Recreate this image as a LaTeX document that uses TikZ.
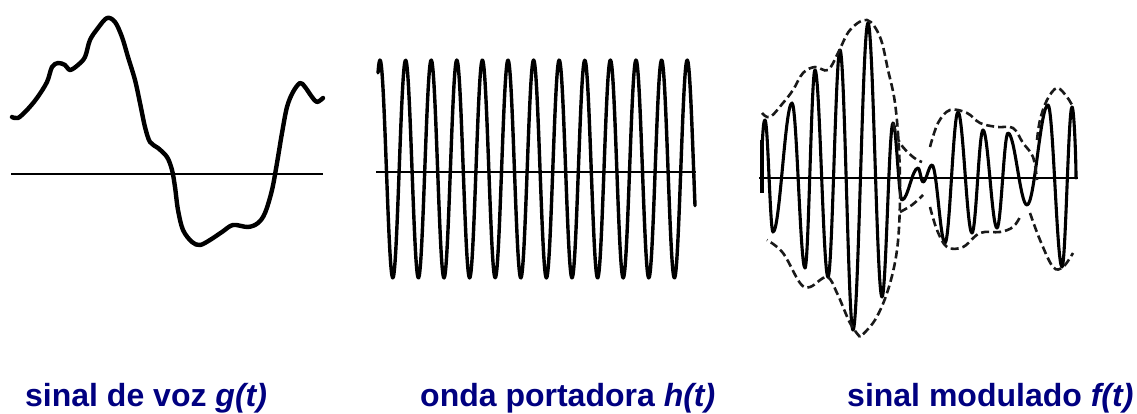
\documentclass[tikz,border=0pt]{standalone}
\usepackage{fontspec}
\setmainfont{Liberation Sans}
\begin{document}
\begin{tikzpicture}[x=1pt,y=-1pt,
  wave/.style={line width=3.1pt, line join=round, line cap=round, black},
  carrier/.style={line width=3.4pt, line join=round, line cap=round, black},
  voice/.style={line width=4.4pt, line join=round, line cap=round, black},
  axisline/.style={line width=2.6pt, black},
  envelope/.style={line width=2.6pt, dash pattern=on 8pt off 4pt, black!90},
  caption/.style={anchor=base west, inner sep=0pt, text=navyblue, font=\fontsize{32}{36}\selectfont\bfseries}]
\definecolor{navyblue}{RGB}{0,0,128}
\useasboundingbox[fill=white] (0,0) rectangle (1137,414);

% ---------- panel 1: voice signal ----------
\draw[axisline] (11,174) -- (323,174);
\draw[voice] plot[smooth, tension=0.55] coordinates {
 (12,117) (18,118) (27,110) (37,98) (47,82) (52,67) (58,63) (65,65) (70,70)
 (78,65) (85,57) (90,40) (98,28) (107,18) (115,22) (122,37) (128,57) (135,80)
 (140,103) (145,127) (150,142) (158,148) (167,157) (172,170) (175,187) (178,210)
 (183,230) (192,242) (200,245) (210,240) (222,232) (233,225) (248,227) (258,223)
 (265,213) (272,190) (277,163) (282,133) (287,107) (293,92) (300,83) (305,87)
 (312,97) (317,102) (323,98)};

% ---------- panel 2: carrier ----------
\draw[axisline] (376,172) -- (696,172);
\draw[carrier] plot[domain=378:695, samples=500, smooth]
  (\x, {169 - 109*cos(14.0625*(\x-380))});

% ---------- panel 3: modulated signal ----------
\draw[axisline] (759,178) -- (1078,178);
\draw[line width=3.4pt] (762,140) -- (762,193);
\draw[wave] (762,150) .. controls +(1,-25) and +(-1,0) .. (765,120)
  \foreach \x/\y [remember=\x as \px (initially 765)] in {
    773/232, 792/103, 805/268, 815/70, 828/277, 840/50, 853/330, 868/23,
    882/297, 893/123, 902/200, 918/168, 923/182, 932/165, 945/243, 958/112,
    972/233, 983/130, 997/228, 1008/133, 1027/205, 1048/105, 1062/267, 1072/107}
  { .. controls +({0.3634*(\x-\px)},0) and +({-0.3634*(\x-\px)},0) .. (\x,\y) }
  .. controls +(2,0) and +(0,-20) .. (1076,178);

% envelopes
\draw[envelope] plot[smooth, tension=0.6] coordinates {
 (762,113) (770,117) (783,103) (793,90) (803,73) (815,67) (828,70) (838,53)
 (850,30) (867,20) (880,37) (888,70) (895,103) (899,150) (900,200) (897,250)
 (888,290) (875,320) (860,337)};
\draw[envelope] plot[smooth, tension=0.6] coordinates {
 (860,337) (850,323) (837,293) (827,277) (810,287) (800,283) (783,253) (767,240)};
\draw[envelope] plot[smooth, tension=0.6] coordinates {
 (893,123) (900,143) (913,157) (922,162)};
\draw[envelope] plot[smooth, tension=0.6] coordinates {
 (930,147) (938,123) (950,110) (967,113) (980,123) (997,127) (1013,128)
 (1023,143) (1033,157) (1037,180)};
\draw[envelope] plot[smooth, tension=0.6] coordinates {
 (900,212) (912,205) (923,195)};
\draw[envelope] plot[smooth, tension=0.6] coordinates {
 (930,207) (937,230) (947,247) (963,247) (980,233) (1000,232) (1013,227) (1020,217)};
\draw[envelope] plot[smooth, tension=0.6] coordinates {
 (1037,140) (1040,120) (1047,100) (1057,88) (1067,97) (1073,107)};
\draw[envelope] plot[smooth, tension=0.6] coordinates {
 (1030,213) (1040,240) (1053,267) (1063,267) (1073,253)};

% ---------- captions ----------
\node[caption] (capg) at (25,406) {sinal de voz \textit{g(t)}};
\node[caption] (caph) at (420,406) {onda portadora \textit{h(t)}};
\node[caption] (capf) at (847,406) {sinal modulado \textit{f(t)}};
\end{tikzpicture}
\end{document}
